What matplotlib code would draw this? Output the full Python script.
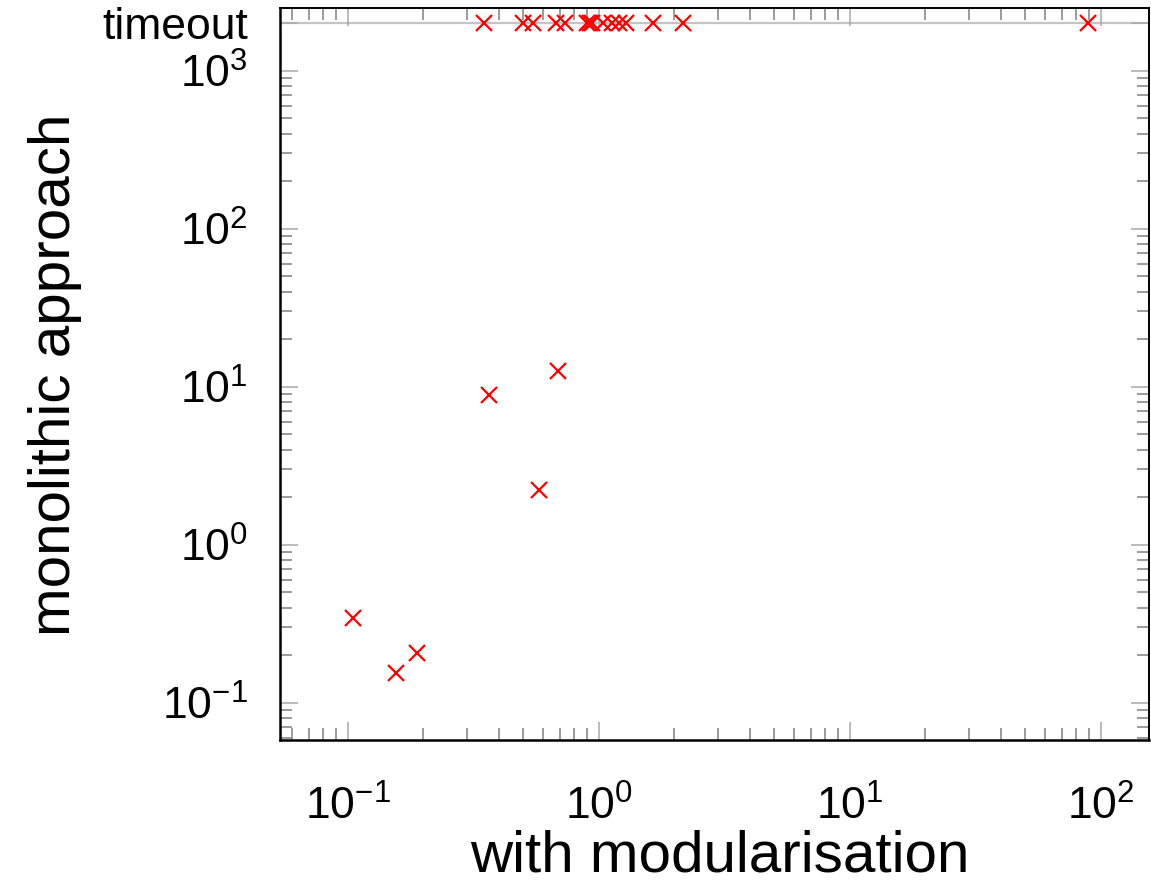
import matplotlib
matplotlib.use("Agg")
import matplotlib.pyplot as plt
from matplotlib.ticker import FixedLocator, FixedFormatter, LogLocator, NullFormatter

plt.rcParams["font.family"] = ["Liberation Sans", "DejaVu Sans"]
plt.rcParams["mathtext.fontset"] = "custom"
plt.rcParams["mathtext.rm"] = "Liberation Sans"
plt.rcParams["mathtext.it"] = "Liberation Sans:italic"
plt.rcParams["mathtext.bf"] = "Liberation Sans:bold"

# Run times (s): modular approach vs. monolithic approach
TIMEOUT = 2000.0

solved_mod = [0.105, 0.156, 0.1885, 0.367, 0.686, 0.576]
solved_mono = [0.342, 0.1535, 0.2055, 8.86, 12.57, 2.22]

timeout_mod = [0.350, 0.500, 0.549, 0.678, 0.737, 0.901, 0.927, 0.944,
               1.044, 1.134, 1.210, 1.290, 1.653, 2.158, 89.2]
timeout_mono = [TIMEOUT] * len(timeout_mod)

x_ticks = [0.1, 1, 10, 100]
x_tick_labels = [r"$10^{-1}$", r"$10^{0}$", r"$10^{1}$", r"$10^{2}$"]
y_ticks = [0.1, 1, 10, 100, 1000, TIMEOUT]
y_tick_labels = [r"$10^{-1}$", r"$10^{0}$", r"$10^{1}$", r"$10^{2}$", r"$10^{3}$", "timeout"]

W, H = 1151, 884
fig = plt.figure(figsize=(W / 100, H / 100), dpi=100)
ax = fig.add_axes([280 / W, 1 - 740 / H, 869 / W, 732 / H])

ax.set_xscale("log")
ax.set_yscale("log")
ax.set_xlim(0.0537, 156.0)
ax.set_ylim(0.0581, 2494.0)

ax.axhline(TIMEOUT, color="#c4c4c4", lw=1.6, zorder=1)

ax.plot(solved_mod, solved_mono, "x", color="#ff0000", ms=11, mew=1.6, zorder=3)
ax.plot(timeout_mod, timeout_mono, "x", color="#ff0000", ms=11, mew=1.6, zorder=3)

ax.xaxis.set_major_locator(FixedLocator(x_ticks))
ax.xaxis.set_major_formatter(FixedFormatter(x_tick_labels))
ax.xaxis.set_minor_locator(LogLocator(base=10, subs=range(2, 10), numticks=20))
ax.xaxis.set_minor_formatter(NullFormatter())
ax.yaxis.set_major_locator(FixedLocator(y_ticks))
ax.yaxis.set_major_formatter(FixedFormatter(y_tick_labels))
ax.yaxis.set_minor_locator(LogLocator(base=10, subs=range(2, 10), numticks=20))
ax.yaxis.set_minor_formatter(NullFormatter())

ax.tick_params(which="both", direction="in", top=True, right=True)
ax.tick_params(which="major", length=13, width=1.1, color="#a8a8a8", labelsize=32)
ax.tick_params(which="minor", length=8.6, width=1.1, color="#808080")
ax.tick_params(axis="x", which="major", pad=33)
ax.tick_params(axis="y", which="major", pad=23)

for side in ["left", "bottom", "top", "right"]:
    ax.spines[side].set_color("black")
    ax.spines[side].set_linewidth(1.4)
ax.spines["left"].set_linewidth(1.8)
ax.spines["bottom"].set_linewidth(1.8)

fig.text(720 / W, 1 - 871 / H, "with modularisation", fontsize=42,
         ha="center", va="baseline")
fig.text(55 / W, 1 - 375 / H, "monolithic approach", fontsize=42,
         ha="center", va="center", rotation=90)

fig.savefig("out.png", dpi=100, facecolor="white")
